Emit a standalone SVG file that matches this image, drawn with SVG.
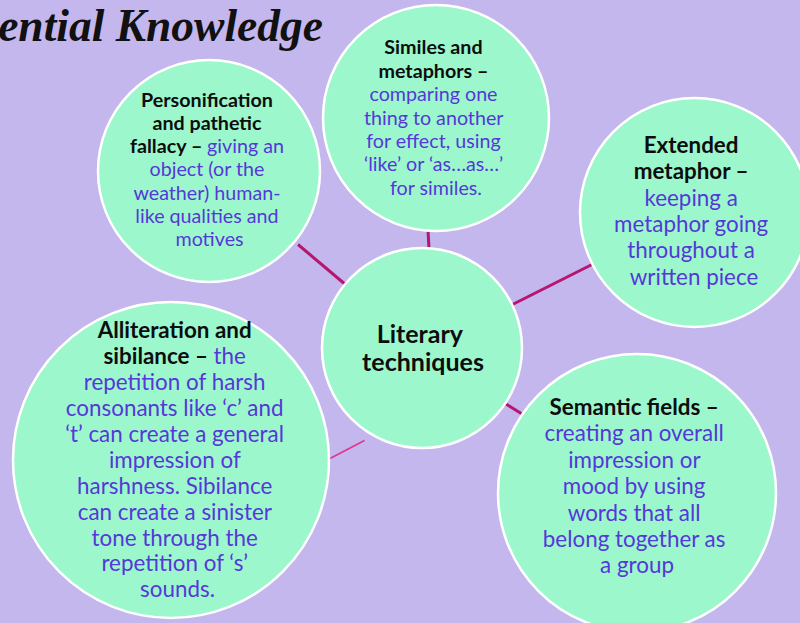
<svg xmlns="http://www.w3.org/2000/svg" width="800" height="623" viewBox="0 0 800 623">
  <style>
    .bg { fill: #c4b7ee; }
    .node { fill: #9cf7cd; stroke: #ffffff; stroke-width: 2.5; }
    .link { stroke: #b5176f; stroke-width: 3; stroke-linecap: butt; fill: none; }
    .link-thin { stroke: #e2368c; stroke-width: 1.6; fill: none; }
    .title { font-family: "Liberation Serif", "DejaVu Serif", serif; font-style: italic; font-weight: bold; font-size: 45.5px; fill: #111111; }
    .label { font-family: Lato, "Liberation Sans", sans-serif; text-anchor: middle; }
    .b { font-weight: bold; fill: #0d0d0d; }
    .d { fill: #5637d8; }
    .s20 { font-size: 19.7px; }
    .s22 { font-size: 22.4px; }
    .s25 { font-size: 25px; }
  </style>

  <rect class="bg" x="0" y="0" width="800" height="623"/>

  <!-- heading runs off the left edge of the slide -->
  <text class="title" x="323" y="41" text-anchor="end">Essential Knowledge</text>

  <!-- spokes from the centre topic to each technique -->
  <g id="connectors">
    <line class="link" x1="298" y1="244.5" x2="346" y2="285"/>
    <line class="link" x1="428" y1="230" x2="429" y2="249"/>
    <line class="link" x1="592" y1="264.5" x2="510.5" y2="305.5"/>
    <line class="link" x1="506" y1="404" x2="522" y2="414"/>
    <line class="link-thin" x1="330" y1="458.5" x2="364.5" y2="440.5"/>
  </g>

  <g id="personification">
    <circle class="node" cx="209" cy="171" r="111"/>
    <text class="label s20">
      <tspan class="b" x="209.5" y="107">Personification</tspan>
      <tspan class="b" x="209.5" y="130">and pathetic</tspan>
      <tspan x="209.5" y="153"><tspan class="b">fallacy – </tspan><tspan class="d">giving an</tspan></tspan>
      <tspan class="d" x="209.5" y="176">object (or the</tspan>
      <tspan class="d" x="209.5" y="200">weather) human-</tspan>
      <tspan class="d" x="209.5" y="223">like qualities and</tspan>
      <tspan class="d" x="209.5" y="246">motives</tspan>
    </text>
  </g>

  <g id="similes">
    <circle class="node" cx="436" cy="118" r="113"/>
    <text class="label s20">
      <tspan class="b" x="436" y="54">Similes and</tspan>
      <tspan class="b" x="436" y="77.5">metaphors –</tspan>
      <tspan class="d" x="436" y="101">comparing one</tspan>
      <tspan class="d" x="436" y="124.5">thing to another</tspan>
      <tspan class="d" x="436" y="148">for effect, using</tspan>
      <tspan class="d" x="436" y="171">‘like’ or ‘as…as…’</tspan>
      <tspan class="d" x="436" y="194.5">for similes.</tspan>
    </text>
  </g>

  <g id="extended-metaphor">
    <circle class="node" cx="694.5" cy="212.5" r="114.5"/>
    <text class="label s22">
      <tspan class="b" x="694" y="153">Extended</tspan>
      <tspan class="b" x="694" y="179">metaphor –</tspan>
      <tspan class="d" x="694" y="206">keeping a</tspan>
      <tspan class="d" x="694" y="232">metaphor going</tspan>
      <tspan class="d" x="694" y="258">throughout a</tspan>
      <tspan class="d" x="694" y="285">written piece</tspan>
    </text>
  </g>

  <g id="literary-techniques">
    <circle class="node" cx="422" cy="348" r="100"/>
    <text class="label s25">
      <tspan class="b" x="423" y="343">Literary</tspan>
      <tspan class="b" x="423" y="370.5">techniques</tspan>
    </text>
  </g>

  <g id="semantic-fields">
    <circle class="node" cx="637" cy="493" r="139"/>
    <text class="label s22">
      <tspan class="b" x="637" y="415">Semantic fields –</tspan>
      <tspan class="d" x="637" y="441">creating an overall</tspan>
      <tspan class="d" x="637" y="468">impression or</tspan>
      <tspan class="d" x="637" y="494">mood by using</tspan>
      <tspan class="d" x="637" y="521">words that all</tspan>
      <tspan class="d" x="637" y="547">belong together as</tspan>
      <tspan class="d" x="637" y="573">a group</tspan>
    </text>
  </g>

  <g id="alliteration">
    <circle class="node" cx="171" cy="460" r="158"/>
    <text class="label s22">
      <tspan class="b" x="177.5" y="338">Alliteration and</tspan>
      <tspan x="177.5" y="364"><tspan class="b">sibilance – </tspan><tspan class="d">the</tspan></tspan>
      <tspan class="d" x="177.5" y="390">repetition of harsh</tspan>
      <tspan class="d" x="177.5" y="416">consonants like ‘c’ and</tspan>
      <tspan class="d" x="177.5" y="442">‘t’ can create a general</tspan>
      <tspan class="d" x="177.5" y="468">impression of</tspan>
      <tspan class="d" x="177.5" y="494">harshness. Sibilance</tspan>
      <tspan class="d" x="177.5" y="520">can create a sinister</tspan>
      <tspan class="d" x="177.5" y="546">tone through the</tspan>
      <tspan class="d" x="177.5" y="571">repetition of ‘s’</tspan>
      <tspan class="d" x="177.5" y="597">sounds.</tspan>
    </text>
  </g>
</svg>
